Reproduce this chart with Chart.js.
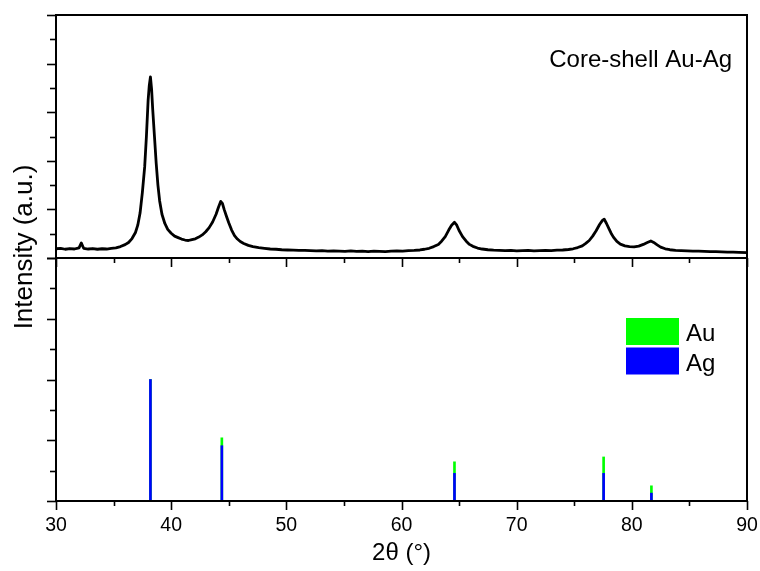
<!DOCTYPE html>
<html lang="en">
<head>
<meta charset="UTF-8" />
<title>XRD - Core-shell Au-Ag</title>
<script src="https://cdn.jsdelivr.net/npm/chart.js"></script>
<style>
  body { margin: 0; background: #fff; }
  .wrap { position: relative; width: 760px; height: 571px; }
  .wrap canvas { position: absolute; left: 0; top: 0; }
</style>
</head>
<body>
<div class="wrap">
  <canvas id="chartRef" width="760" height="571"></canvas>
  <canvas id="chartXrd" width="760" height="571"></canvas>
</div>
<script>
  const twoTheta = [
    30.0, 30.4, 30.8, 31.2, 31.6, 32.0, 32.2, 32.4, 32.8, 33.2, 33.6, 34.0, 34.4, 34.8, 35.2, 35.6,
    36.0, 36.3, 36.6, 36.9, 37.1, 37.3, 37.5, 37.7, 37.85, 38.0, 38.1, 38.2, 38.3, 38.4, 38.55, 38.7,
    38.85, 39.0, 39.2, 39.45, 39.7, 40.0, 40.3, 40.6, 40.9, 41.2, 41.5, 41.8, 42.1, 42.4, 42.7, 43.0,
    43.3, 43.6, 43.9, 44.1, 44.3, 44.45, 44.6, 44.8, 45.0, 45.25, 45.5, 45.75, 46.0, 46.3, 46.7, 47.1,
    47.6, 48.1, 48.6, 49.1, 49.6, 50.1, 50.6, 51.1, 51.6, 52.1, 52.6, 53.1, 53.6, 54.1, 54.6, 55.1,
    55.6, 56.1, 56.6, 57.1, 57.6, 58.1, 58.6, 59.1, 59.6, 60.1, 60.6, 61.1, 61.6, 62.0, 62.4, 62.8,
    63.2, 63.5, 63.8, 64.1, 64.35, 64.6, 64.8, 65.0, 65.3, 65.6, 65.9, 66.2, 66.6, 67.0, 67.5, 68.0,
    68.5, 69.0, 69.5, 70.0, 70.5, 71.0, 71.5, 72.0, 72.5, 73.0, 73.5, 74.0, 74.5, 74.9, 75.3, 75.7,
    76.0, 76.3, 76.6, 76.9, 77.2, 77.45, 77.6, 77.8, 78.0, 78.2, 78.4, 78.7, 79.0, 79.4, 79.8, 80.2,
    80.6, 81.0, 81.3, 81.65, 81.9, 82.2, 82.5, 82.9, 83.3, 83.8, 84.3, 84.8, 85.3, 85.8, 86.3, 86.8,
    87.3, 87.8, 88.3, 88.8, 89.3, 90.0
  ];
  const intensity = [
    0.38, 0.40, 0.36, 0.39, 0.37, 0.42, 0.62, 0.40, 0.37, 0.39, 0.36, 0.38, 0.37, 0.40, 0.42, 0.47,
    0.55, 0.64, 0.80, 1.05, 1.35, 1.85, 2.70, 3.75, 5.00, 6.50, 7.10, 7.45, 6.95, 6.10, 5.00, 3.90,
    3.00, 2.35, 1.80, 1.42, 1.18, 1.02, 0.90, 0.84, 0.78, 0.74, 0.72, 0.76, 0.79, 0.86, 0.95, 1.08,
    1.25, 1.48, 1.80, 2.08, 2.33, 2.25, 2.00, 1.72, 1.45, 1.15, 0.92, 0.78, 0.68, 0.60, 0.52, 0.47,
    0.43, 0.40, 0.37, 0.36, 0.34, 0.33, 0.32, 0.31, 0.31, 0.30, 0.29, 0.30, 0.28, 0.29, 0.28, 0.27,
    0.29, 0.27, 0.28, 0.26, 0.28, 0.27, 0.26, 0.28, 0.29, 0.28, 0.30, 0.31, 0.33, 0.36, 0.40, 0.47,
    0.56, 0.70, 0.88, 1.15, 1.35, 1.47, 1.35, 1.13, 0.88, 0.70, 0.56, 0.48, 0.41, 0.37, 0.34, 0.32,
    0.31, 0.30, 0.31, 0.29, 0.30, 0.31, 0.29, 0.30, 0.31, 0.30, 0.32, 0.33, 0.35, 0.38, 0.43, 0.50,
    0.60, 0.72, 0.90, 1.12, 1.38, 1.55, 1.60, 1.42, 1.22, 1.02, 0.86, 0.68, 0.57, 0.50, 0.47, 0.46,
    0.49, 0.56, 0.63, 0.70, 0.64, 0.54, 0.45, 0.38, 0.34, 0.31, 0.30, 0.29, 0.28, 0.28, 0.27, 0.26,
    0.26, 0.25, 0.24, 0.24, 0.23, 0.22
  ];

  // reference sticks (bottom panel)
  const peakPos = [38.2, 44.4, 64.6, 77.55, 81.7];
  const auHeights = [4.0, 2.08, 1.29, 1.45, 0.50];
  const agHeights = [4.0, 1.82, 0.91, 0.91, 0.26];

  const xMin = 30, xMax = 90;
  const xLabelStep = 10;

  const FONT = '"Liberation Sans", Arial, sans-serif';
  Chart.defaults.font.family = FONT;
  Chart.defaults.color = '#000';

  // frame + outward ticks like the origin plot
  const axesFrame = {
    id: 'axesFrame',
    afterDraw(chart) {
      const { ctx, chartArea: a, scales: { x, y } } = chart;
      ctx.save();
      ctx.strokeStyle = '#000';
      ctx.lineWidth = 1.6;
      for (let v = xMin; v <= xMax; v += 5) {
        const px = Math.round(x.getPixelForValue(v)) + 0.5;
        const len = v % 10 === 0 ? 9 : 5;
        ctx.beginPath(); ctx.moveTo(px, a.bottom); ctx.lineTo(px, a.bottom + len); ctx.stroke();
      }
      for (let v = y.min; v <= y.max; v += 1) {
        const py = Math.round(y.getPixelForValue(v)) + 0.5;
        const len = v % 2 === 0 ? 9 : 6;
        ctx.beginPath(); ctx.moveTo(a.left, py); ctx.lineTo(a.left - len, py); ctx.stroke();
      }
      ctx.lineWidth = 2;
      ctx.strokeRect(a.left, a.top, a.right - a.left, a.bottom - a.top);
      ctx.restore();
    }
  };

  const sampleLabel = {
    id: 'sampleLabel',
    afterDraw(chart) {
      const { ctx, chartArea: a } = chart;
      ctx.save();
      ctx.font = '24px ' + FONT;
      ctx.fillStyle = '#000';
      ctx.textAlign = 'right';
      ctx.textBaseline = 'alphabetic';
      ctx.fillText('Core-shell Au-Ag', a.right - 15, 66.5);
      ctx.restore();
    }
  };

  const stickLegend = {
    id: 'stickLegend',
    afterDraw(chart) {
      const { ctx } = chart;
      ctx.save();
      ctx.font = '24px ' + FONT;
      ctx.textBaseline = 'alphabetic';
      chart.data.datasets.forEach((ds, i) => {
        const top = 318 + i * 29.5;
        ctx.fillStyle = ds.backgroundColor;
        ctx.fillRect(626, top, 53, 27);
        ctx.fillStyle = '#000';
        ctx.fillText(ds.label, 686, top + 23);
      });
      // rotated y title shared by both panels
      ctx.translate(31.5, 247);
      ctx.rotate(-Math.PI / 2);
      ctx.font = '26px ' + FONT;
      ctx.textAlign = 'center';
      ctx.fillText('Intensity (a.u.)', 0, 0);
      ctx.restore();
    }
  };

  // bottom panel: Au / Ag reference lines
  new Chart(document.getElementById('chartRef'), {
    type: 'bar',
    data: {
      datasets: [
        { label: 'Au', data: peakPos.map((p, i) => ({ x: p, y: auHeights[i] })), backgroundColor: '#00ff00', order: 1 },
        { label: 'Ag', data: peakPos.map((p, i) => ({ x: p, y: agHeights[i] })), backgroundColor: '#0000ff', order: 0 }
      ]
    },
    options: {
      responsive: false,
      animation: false,
      layout: { padding: { left: 56, right: 13, top: 258, bottom: 0 } },
      datasets: { bar: { grouped: false, barThickness: 2, borderWidth: 0 } },
      scales: {
        x: {
          type: 'linear', min: xMin, max: xMax, offset: false,
          grid: { display: false, drawTicks: false, tickLength: 0 },
          border: { display: false },
          ticks: { stepSize: xLabelStep, autoSkip: false, maxRotation: 0, padding: 13, font: { size: 19.5 } },
          title: { display: true, text: '2θ (°)', font: { size: 24 }, padding: { top: 0, bottom: 3 } },
          afterFit(scale) {
            scale.height = 70;
            scale.paddingLeft = 0;
            scale.paddingRight = 0;
          }
        },
        y: { display: false, min: 0, max: 8 }
      },
      plugins: { legend: { display: false }, tooltip: { enabled: false } }
    },
    plugins: [axesFrame, stickLegend]
  });

  // top panel: measured pattern
  new Chart(document.getElementById('chartXrd'), {
    type: 'line',
    data: {
      datasets: [{
        data: twoTheta.map((t, i) => ({ x: t, y: intensity[i] })),
        borderColor: '#000', borderWidth: 2.8, borderJoinStyle: 'round',
        pointRadius: 0, tension: 0
      }]
    },
    options: {
      responsive: false,
      animation: false,
      layout: { padding: { left: 56, right: 13, top: 15, bottom: 313 } },
      scales: {
        x: { type: 'linear', display: false, min: xMin, max: xMax },
        y: { display: false, min: 0, max: 10 }
      },
      plugins: { legend: { display: false }, tooltip: { enabled: false } }
    },
    plugins: [axesFrame, sampleLabel]
  });
</script>
</body>
</html>
